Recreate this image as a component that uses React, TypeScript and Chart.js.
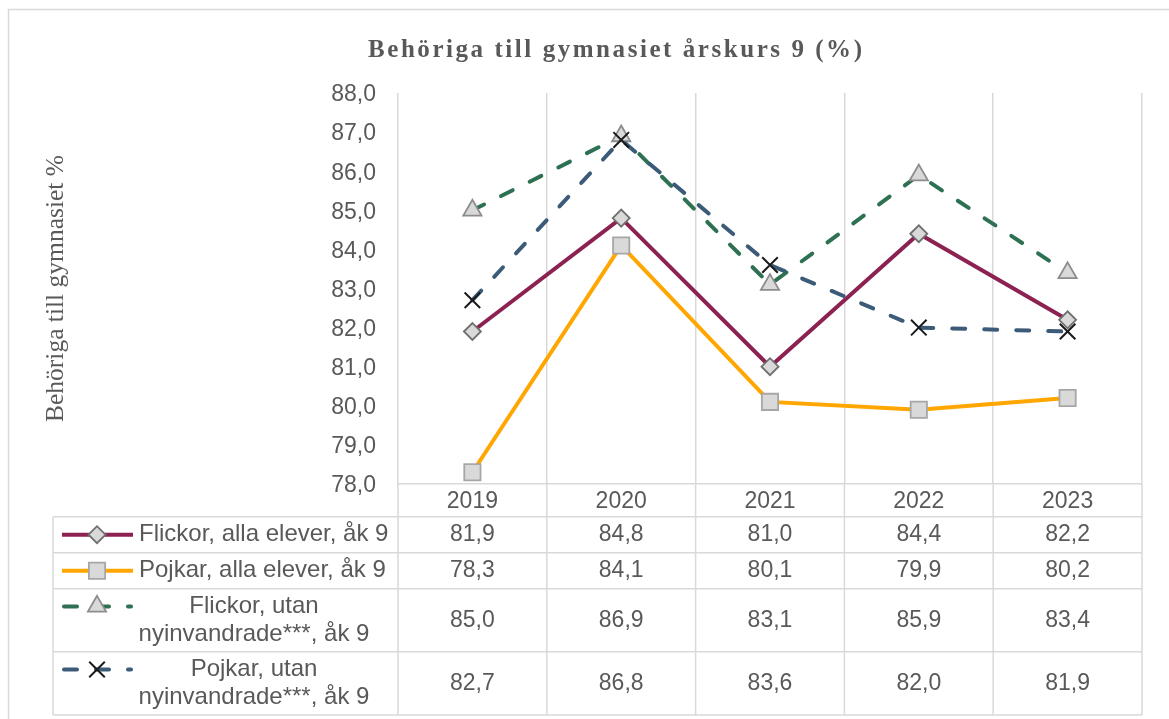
import React, { useEffect, useRef } from "react";
import { Chart, registerables } from "chart.js";
import { drawPoint } from "chart.js/helpers";

Chart.register(...registerables);

const categories = ["2019", "2020", "2021", "2022", "2023"];
const flickorAlla = [81.9, 84.8, 81.0, 84.4, 82.2];
const pojkarAlla = [78.3, 84.1, 80.1, 79.9, 80.2];
const flickorUtan = [85.0, 86.9, 83.1, 85.9, 83.4];
const pojkarUtan = [82.7, 86.8, 83.6, 82.0, 81.9];
const seriesLabels: string[][] = [
  ["Flickor, alla elever, åk 9"],
  ["Pojkar, alla elever, åk 9"],
  ["Flickor, utan", "nyinvandrade***, åk 9"],
  ["Pojkar, utan", "nyinvandrade***, åk 9"],
];
const yMin = 78;
const yMax = 88;
const yStep = 1;
const titleText = "Behöriga till gymnasiet årskurs 9 (%)";
const yTitleText = "Behöriga till gymnasiet %";

const fmt = (v: number) => v.toFixed(1).replace(".", ",");

const GRID = "#d9d9d9";
const TEXT = "#595959";
const SANS = '"Liberation Sans", Arial, sans-serif';
const SERIF = '"Liberation Serif", "Times New Roman", serif';
const DASH = [13, 19];

const tablePlugin = {
  id: "tablePlugin",
  beforeDraw(chart: any) {
    const ctx = chart.ctx as CanvasRenderingContext2D;
    ctx.save();
    ctx.fillStyle = "#ffffff";
    ctx.fillRect(0, 0, chart.width, chart.height);
    // outer frame
    ctx.strokeStyle = GRID;
    ctx.lineWidth = 1.5;
    ctx.strokeRect(8.5, 9.5, 1300, 900);
    // title with letter spacing
    ctx.font = "bold 25px " + SERIF;
    ctx.fillStyle = TEXT;
    ctx.textBaseline = "alphabetic";
    ctx.textAlign = "left";
    const chars = Array.from(titleText);
    const widths = chars.map((c) => ctx.measureText(c).width);
    const total = widths.reduce((a, b) => a + b, 0);
    const targetW = 494;
    const sp = (targetW - total) / (chars.length - 1);
    let x = 615 - targetW / 2;
    chars.forEach((c, i) => {
      ctx.fillText(c, x, 57);
      x += widths[i] + sp;
    });
    ctx.restore();
  },
  afterDraw(chart: any) {
    const ctx = chart.ctx as CanvasRenderingContext2D;
    const area = chart.chartArea;
    const n = categories.length;
    const colW = (area.right - area.left) / n;
    const rowLines = [516.7, 552.7, 588.7, 651.7, 715];
    const tableLeft = 53;
    ctx.save();
    ctx.strokeStyle = GRID;
    ctx.lineWidth = 1.5;
    // horizontal lines
    rowLines.forEach((y) => {
      ctx.beginPath();
      ctx.moveTo(tableLeft, y);
      ctx.lineTo(area.right, y);
      ctx.stroke();
    });
    // vertical lines through table
    for (let i = 0; i <= n; i++) {
      const x = area.left + i * colW;
      ctx.beginPath();
      ctx.moveTo(x, area.bottom);
      ctx.lineTo(x, rowLines[rowLines.length - 1]);
      ctx.stroke();
    }
    ctx.beginPath();
    ctx.moveTo(tableLeft, rowLines[0]);
    ctx.lineTo(tableLeft, rowLines[rowLines.length - 1]);
    ctx.stroke();

    ctx.fillStyle = TEXT;
    ctx.textBaseline = "middle";
    chart.data.datasets.forEach((ds: any, r: number) => {
      const yMid = (rowLines[r] + rowLines[r + 1]) / 2;
      // values
      ctx.font = "23px " + SANS;
      ctx.fillStyle = TEXT;
      ctx.textAlign = "center";
      ds.data.forEach((v: number, i: number) => {
        const x = chart.scales.x.getPixelForValue(i);
        ctx.fillText(fmt(v), x, yMid);
      });
      // row header text
      ctx.font = "24px " + SANS;
      const lines = seriesLabels[r];
      const lh = 27.6;
      let keyY = yMid;
      if (lines.length === 1) {
        ctx.textAlign = "left";
        ctx.fillText(lines[0], 139, yMid);
      } else {
        ctx.textAlign = "center";
        const y0 = yMid - ((lines.length - 1) * lh) / 2;
        lines.forEach((t, k) => ctx.fillText(t, 254, y0 + k * lh));
        keyY = y0;
      }
      // legend key
      ctx.save();
      ctx.strokeStyle = ds.borderColor;
      ctx.lineWidth = ds.borderWidth;
      ctx.lineCap = ds.borderCapStyle || "butt";
      ctx.setLineDash(ds.borderDash || []);
      ctx.beginPath();
      if (ds.borderDash && ds.borderDash.length) {
        ctx.moveTo(64, keyY);
        ctx.lineTo(131, keyY);
      } else {
        ctx.moveTo(62, keyY);
        ctx.lineTo(133, keyY);
      }
      ctx.stroke();
      ctx.setLineDash([]);
      ctx.fillStyle = ds.pointBackgroundColor;
      ctx.strokeStyle = ds.pointBorderColor;
      ctx.lineWidth = ds.pointBorderWidth;
      ctx.lineCap = "butt";
      drawPoint(
        ctx,
        {
          pointStyle: ds.pointStyle,
          radius: ds.pointRadius,
          rotation: 0,
          borderWidth: ds.pointBorderWidth,
        } as any,
        97,
        keyY
      );
      ctx.restore();
      ctx.fillStyle = TEXT;
      ctx.textBaseline = "middle";
    });
    ctx.restore();
  },
};

export default function App() {
  const ref = useRef<HTMLCanvasElement | null>(null);
  useEffect(() => {
    if (!ref.current) return;
    const chart = new Chart(ref.current, {
      type: "line",
      data: {
        labels: categories,
        datasets: [
          {
            label: seriesLabels[0].join(" "),
            data: flickorAlla,
            borderColor: "#8B2252",
            backgroundColor: "#8B2252",
            borderWidth: 4,
            pointStyle: "rectRot",
            pointRadius: 8.5,
            pointBackgroundColor: "#d9d9d9",
            pointBorderColor: "#6f6f6f",
            pointBorderWidth: 1.8,
            order: 3,
            tension: 0,
          } as any,
          {
            label: seriesLabels[1].join(" "),
            data: pojkarAlla,
            borderColor: "#FFA600",
            backgroundColor: "#FFA600",
            borderWidth: 4,
            pointStyle: "rect",
            pointRadius: 11.5,
            pointBackgroundColor: "#d9d9d9",
            pointBorderColor: "#a6a6a6",
            pointBorderWidth: 1.8,
            order: 2,
            tension: 0,
          },
          {
            label: seriesLabels[2].join(" "),
            data: flickorUtan,
            borderColor: "#2E7152",
            backgroundColor: "#2E7152",
            borderWidth: 4,
            borderDash: DASH,
            borderCapStyle: "round",
            pointStyle: "triangle",
            pointRadius: 10.5,
            pointBackgroundColor: "#d9d9d9",
            pointBorderColor: "#8c8c8c",
            pointBorderWidth: 1.8,
            order: 1,
            tension: 0,
          },
          {
            label: seriesLabels[3].join(" "),
            data: pojkarUtan,
            borderColor: "#3B5B79",
            backgroundColor: "#3B5B79",
            borderWidth: 4,
            borderDash: DASH,
            borderCapStyle: "round",
            pointStyle: "crossRot",
            pointRadius: 11,
            pointBackgroundColor: "#1a1a1a",
            pointBorderColor: "#1a1a1a",
            pointBorderWidth: 2,
            order: 0,
            tension: 0,
          },
        ],
      },
      options: {
        animation: false,
        responsive: false,
        devicePixelRatio: 1,
        layout: { padding: { left: 0, right: 27, top: 93, bottom: 0 } },
        plugins: {
          legend: { display: false },
          tooltip: { enabled: false },
          title: { display: false },
        },
        scales: {
          x: {
            type: "category",
            offset: true,
            grid: { display: true, offset: true, color: GRID, lineWidth: 1.5, drawTicks: false },
            border: { display: true, color: GRID, width: 1.5 },
            ticks: { color: TEXT, font: { family: SANS, size: 23 }, padding: 4, maxRotation: 0, autoSkip: false },
            afterFit: (scale: any) => {
              scale.height = 235;
            },
          },
          y: {
            min: yMin,
            max: yMax,
            grid: { display: false, drawTicks: false },
            border: { display: false },
            ticks: {
              stepSize: yStep,
              color: TEXT,
              font: { family: SANS, size: 23 },
              padding: 22,
              labelOffset: 2,
              callback: (v: any) => fmt(Number(v)),
            },
            title: {
              display: true,
              text: yTitleText,
              color: TEXT,
              font: { family: SERIF, size: 25.5, weight: "normal" },
              padding: { top: 41, bottom: 0 },
            },
            afterFit: (scale: any) => {
              scale.width = 398;
            },
          },
        },
      },
      plugins: [tablePlugin],
    });
    return () => chart.destroy();
  }, []);
  return (
    <div style={{ position: "absolute", left: 0, top: 0, width: 1169, height: 719 }}>
      <canvas ref={ref} width={1169} height={719} style={{ display: "block" }} />
    </div>
  );
}
